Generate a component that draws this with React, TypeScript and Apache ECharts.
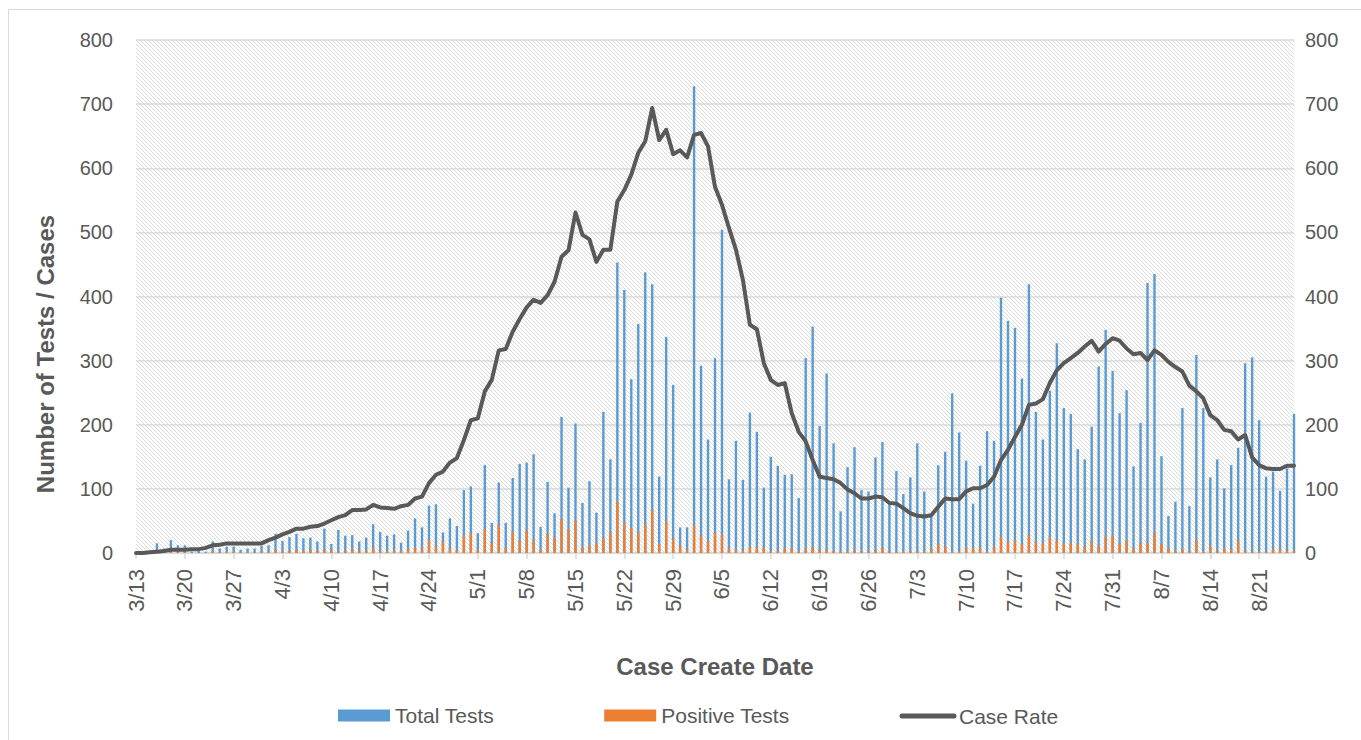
import { useEffect, useRef } from "react";
import * as echarts from "echarts";

// Daily values, one row per week starting 3/13
const totalTests: number[] = [
  0, 0, 0, 15, 7, 20, 12,
  12, 2, 3, 2, 18, 7, 10,
  10, 5, 7, 7, 11, 12, 30,
  19, 25, 30, 23, 24, 18, 38,
  14, 36, 27, 28, 18, 24, 45,
  33, 27, 29, 16, 35, 54, 40,
  74, 76, 32, 54, 42, 98, 104,
  31, 137, 47, 110, 47, 117, 139,
  141, 154, 41, 111, 62, 212, 102,
  202, 78, 112, 63, 220, 146, 453,
  410, 271, 357, 438, 419, 119, 337,
  262, 40, 40, 728, 292, 177, 304,
  504, 115, 175, 114, 219, 189, 102,
  150, 136, 122, 123, 86, 304, 353,
  198, 280, 171, 65, 134, 165, 98,
  96, 149, 173, 76, 128, 92, 118,
  171, 96, 57, 137, 158, 249, 188,
  144, 77, 136, 190, 175, 398, 362,
  351, 272, 419, 220, 177, 253, 327,
  226, 217, 162, 146, 197, 291, 348,
  284, 218, 254, 135, 203, 421, 435,
  151, 58, 80, 226, 73, 309, 226,
  118, 146, 101, 137, 164, 296, 305,
  207, 119, 127, 97, 132, 217,
];

const positiveTests: number[] = [
  0, 0, 0, 1, 0, 1, 1,
  1, 0, 0, 0, 3, 1, 2,
  2, 1, 1, 1, 2, 2, 5,
  3, 3, 5, 3, 5, 3, 5,
  4, 2, 3, 6, 3, 3, 8,
  3, 3, 4, 3, 6, 8, 7,
  20, 10, 18, 7, 4, 27, 31,
  5, 37, 16, 43, 7, 33, 19,
  35, 19, 5, 30, 24, 53, 37,
  51, 8, 12, 15, 23, 32, 80,
  47, 39, 32, 44, 67, 14, 49,
  22, 12, 5, 43, 27, 18, 31,
  28, 7, 5, 4, 9, 9, 9,
  3, 2, 7, 7, 2, 6, 9,
  5, 5, 3, 2, 2, 4, 2,
  2, 4, 8, 2, 2, 2, 3,
  2, 2, 6, 15, 10, 2, 2,
  8, 8, 8, 2, 10, 25, 17,
  19, 14, 28, 17, 15, 24, 19,
  15, 15, 15, 10, 19, 11, 25,
  27, 15, 19, 7, 16, 15, 31,
  14, 8, 3, 6, 3, 20, 2,
  10, 3, 7, 6, 19, 3, 3,
  2, 2, 6, 6, 4, 3,
];

const caseRate: number[] = [
  0, 0, 1, 2, 3, 5, 5,
  5, 6, 6, 8, 12, 13, 15,
  15, 15, 15, 15, 15, 20, 24,
  29, 33, 38, 38, 41, 42, 46,
  51, 56, 59, 67, 67, 68, 75,
  71, 70, 69, 73, 75, 85, 88,
  109, 122, 127, 141, 148, 176, 207,
  210, 252, 270, 316, 318, 345, 365,
  383, 395, 390, 402, 423, 462, 472,
  531, 496, 489, 454, 473, 473, 548,
  566, 590, 624, 642, 694, 644, 660,
  622, 628, 617, 652, 655, 634, 571,
  543, 507, 473, 426, 356, 349, 296,
  270, 262, 265, 218, 189, 174, 145,
  119, 117, 115, 109, 99, 93, 85,
  85, 88, 87, 78, 77, 70, 62,
  58, 57, 59, 72, 85, 84, 84,
  96, 101, 101, 106, 119, 145, 161,
  181, 200, 231, 233, 240, 265, 285,
  296, 304, 312, 322, 331, 314, 326,
  335, 331, 319, 310, 312, 301, 316,
  309, 298, 290, 283, 261, 252, 241,
  215, 207, 192, 190, 177, 184, 149,
  137, 132, 131, 131, 136, 136,
];

const yTicks = { min: 0, max: 800, interval: 100 };
const seriesNames = ["Total Tests", "Positive Tests", "Case Rate"];

function buildDates(n: number): string[] {
  const out: string[] = [];
  const d = new Date(2020, 2, 13);
  for (let i = 0; i < n; i++) {
    out.push(`${d.getMonth() + 1}/${d.getDate()}`);
    d.setDate(d.getDate() + 1);
  }
  return out;
}

const dates = buildDates(totalTests.length);

const TEXT = "#595959";
const LINE = "#595959";
const FONT = '"Liberation Sans", Arial, sans-serif';

const hatchSvg =
  "<svg xmlns='http://www.w3.org/2000/svg' width='4' height='4'>" +
  "<rect width='4' height='4' fill='#ffffff'/>" +
  "<path d='M-1,-1 L5,5 M3,-1 L5,1 M-1,3 L1,5' stroke='#d6d6d6' stroke-width='0.9'/>" +
  "</svg>";
const hatchUrl = "data:image/svg+xml;charset=utf-8," + encodeURIComponent(hatchSvg);

export default function App() {
  const ref = useRef<HTMLDivElement>(null);

  useEffect(() => {
    if (!ref.current) return;
    const chart = echarts.init(ref.current, null, { renderer: "svg" });
    chart.setOption({
      animation: false,
      backgroundColor: "#ffffff",
      textStyle: { fontFamily: FONT, color: TEXT },
      grid: {
        left: 136,
        top: 40,
        width: 1158,
        height: 513,
        show: true,
        borderWidth: 0,
        backgroundColor: {
          image: hatchUrl,
          repeat: "repeat",
          imageWidth: 4,
          imageHeight: 4,
        } as any,
      },
      legend: {
        left: 333,
        top: 700,
        itemWidth: 52,
        itemHeight: 12,
        itemGap: 110,
        textStyle: { color: TEXT, fontSize: 21, fontFamily: FONT },
        data: [
          { name: seriesNames[0], icon: "rect" },
          { name: seriesNames[1], icon: "rect" },
        ],
      },
      xAxis: {
        type: "category",
        data: dates,
        boundaryGap: false,
        axisLine: { lineStyle: { color: "#d9d9d9", width: 2 } },
        axisTick: {
          show: true,
          interval: 6,
          length: 6,
          lineStyle: { color: "#d9d9d9", width: 1.5 },
        },
        axisLabel: {
          interval: 6,
          rotate: 90,
          color: TEXT,
          fontSize: 22,
          fontFamily: FONT,
          margin: 16,
        },
        splitLine: { show: false },
      },
      yAxis: [
        {
          type: "value",
          min: yTicks.min,
          max: yTicks.max,
          interval: yTicks.interval,
          axisLine: { show: false },
          axisTick: { show: false },
          axisLabel: { color: TEXT, fontSize: 20, fontFamily: FONT, margin: 23 },
          splitLine: { lineStyle: { color: "#d9d9d9", width: 1.5 } },
        },
        {
          type: "value",
          position: "right",
          min: yTicks.min,
          max: yTicks.max,
          interval: yTicks.interval,
          axisLine: { show: false },
          axisTick: { show: false },
          axisLabel: { color: TEXT, fontSize: 20, fontFamily: FONT, margin: 11 },
          splitLine: { show: false },
        },
      ],
      series: [
        {
          name: seriesNames[0],
          type: "bar",
          data: totalTests,
          barWidth: 2.4,
          barGap: "-100%",
          itemStyle: { color: "#5b9bd5" },
          z: 2,
        },
        {
          name: seriesNames[1],
          type: "bar",
          data: positiveTests,
          barWidth: 2.4,
          barGap: "-100%",
          itemStyle: { color: "#ed7d31" },
          z: 3,
        },
        {
          name: seriesNames[2],
          type: "line",
          yAxisIndex: 1,
          data: caseRate,
          symbol: "none",
          lineStyle: { color: LINE, width: 4, cap: "round", join: "round" },
          itemStyle: { color: LINE },
          z: 5,
        },
      ],
      graphic: [
        {
          type: "rect",
          shape: { x: 8.5, y: 9.5, width: 1400, height: 800 },
          style: { fill: "none", stroke: "#d9d9d9", lineWidth: 1 },
          silent: true,
        },
        {
          type: "text",
          x: 45,
          y: 354,
          rotation: Math.PI / 2,
          style: {
            text: "Number of Tests / Cases",
            fontSize: 24,
            fontWeight: "bold",
            fontFamily: FONT,
            fill: TEXT,
            align: "center",
            verticalAlign: "middle",
          },
        },
        {
          type: "text",
          x: 715,
          y: 666,
          style: {
            text: "Case Create Date",
            fontSize: 24,
            fontWeight: "bold",
            fontFamily: FONT,
            fill: TEXT,
            align: "center",
            verticalAlign: "middle",
          },
        },
        {
          type: "line",
          shape: { x1: 902, y1: 716, x2: 954, y2: 716 },
          style: { stroke: LINE, lineWidth: 5, lineCap: "round" },
          silent: true,
        },
        {
          type: "text",
          x: 959,
          y: 716,
          style: {
            text: seriesNames[2],
            fontSize: 21,
            fontFamily: FONT,
            fill: TEXT,
            align: "left",
            verticalAlign: "middle",
          },
        },
      ],
    });
    return () => chart.dispose();
  }, []);

  return (
    <div
      ref={ref}
      style={{ position: "fixed", left: 0, top: 0, width: 1361, height: 740 }}
    />
  );
}
